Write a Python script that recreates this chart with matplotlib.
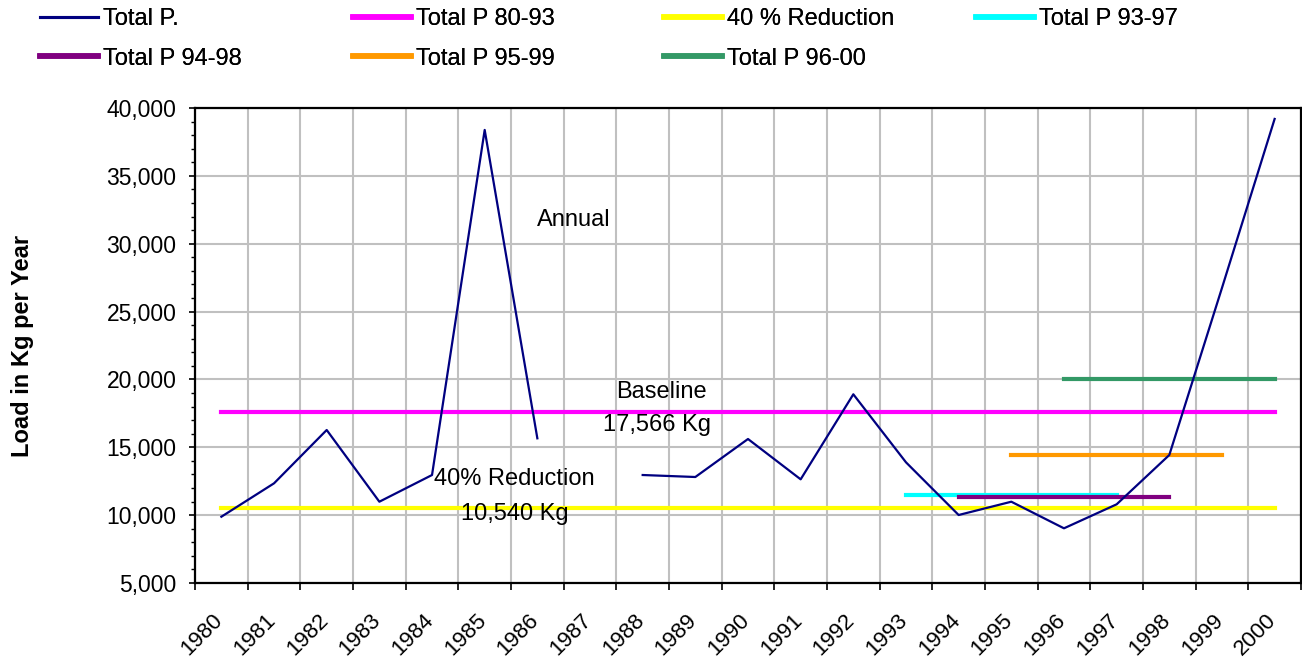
import numpy as np
import matplotlib
matplotlib.use('Agg')
import matplotlib.pyplot as plt
import matplotlib.transforms as mtransforms
from matplotlib.ticker import FuncFormatter, MultipleLocator, FixedLocator, NullFormatter
from matplotlib.lines import Line2D

plt.rcParams['font.family'] = ['Liberation Sans', 'DejaVu Sans']

# data
years = list(range(1980, 2001))
total_p = [9885, 12346, 16274, 10991, 12958, 38381, 15661, np.nan,
           12958, 12811, 15611, 12640, 18905, 13893, 10011, 10991,
           9031, 10799, 14432, 26739, 39192]
baseline = 17566
reduction = 10540
# running 5-year means: (first year, last year, value)
p_93_97 = (1993, 1997, 11507)
p_94_98 = (1994, 1998, 11337)
p_95_99 = (1995, 1999, 14432)
p_96_00 = (1996, 2000, 20011)

fig = plt.figure(figsize=(13.02, 6.62), dpi=100)
ax = fig.add_axes([0.1498, 0.1193, 0.8494, 0.7176])

lw_h = 3.0
l_base, = ax.plot([years[0], years[-1]], [baseline, baseline], color='#FF00FF', lw=lw_h, zorder=3)
l_red, = ax.plot([years[0], years[-1]], [reduction, reduction], color='#FFFF00', lw=lw_h, zorder=3)
l_9397, = ax.plot(p_93_97[:2], [p_93_97[2]] * 2, color='#00FFFF', lw=lw_h, zorder=3)
l_9498, = ax.plot(p_94_98[:2], [p_94_98[2]] * 2, color='#800080', lw=lw_h, zorder=3)
l_9599, = ax.plot(p_95_99[:2], [p_95_99[2]] * 2, color='#FF9900', lw=lw_h, zorder=3)
l_9600, = ax.plot(p_96_00[:2], [p_96_00[2]] * 2, color='#339966', lw=lw_h, zorder=3)
l_tot, = ax.plot(years, total_p, color='#000080', lw=1.6, zorder=4)

# axes
ax.set_xlim(years[0] - 0.5, years[-1] + 0.5)
ax.set_ylim(5000, 40000)
ax.yaxis.set_major_locator(MultipleLocator(5000))
ax.yaxis.set_minor_locator(MultipleLocator(1000))
ax.yaxis.set_major_formatter(FuncFormatter(lambda v, p: f'{int(v):,}'))
ax.xaxis.set_major_locator(FixedLocator([y - 0.5 for y in years] + [years[-1] + 0.5]))
ax.xaxis.set_major_formatter(NullFormatter())
ax.tick_params(axis='x', which='major', length=5, width=1.2, direction='out')
ax.tick_params(axis='y', which='major', length=4.5, width=1.2, direction='out', pad=9, labelsize=16.5)
ax.tick_params(axis='y', which='minor', length=3, width=1.0, direction='out')

# rotated category labels, top-right end just left of each category centre
xlab_tr = ax.get_xaxis_transform() + mtransforms.ScaledTranslation(-9 / 100, -27 / 100, fig.dpi_scale_trans)
for yr in years:
    ax.text(yr, 0, str(yr), transform=xlab_tr, rotation=45, rotation_mode='anchor',
            ha='right', va='top', fontsize=16, clip_on=False)

ax.grid(True, which='major', color='#C0C0C0', lw=1.5, zorder=0)
ax.set_axisbelow(True)
for s in ax.spines.values():
    s.set_color('black')
    s.set_linewidth(1.6)

ax.set_ylabel('Load in Kg per Year', fontsize=17, fontweight='bold')
ax.yaxis.set_label_coords(-0.146, 0.5)

# annotations
ax.text(1986.7, 31750, 'Annual', fontsize=17, ha='center', va='center')
ax.text(1988.35, 19100, 'Baseline', fontsize=17, ha='center', va='center')
ax.text(1988.27, 16650, '17,566 Kg', fontsize=17, ha='center', va='center')
ax.text(1985.56, 12660, '40% Reduction', fontsize=17, ha='center', va='center')
ax.text(1985.58, 10090, '10,540 Kg', fontsize=17, ha='center', va='center')

# legend, one block per column
columns = [
    ([l_tot, l_9498], ['Total P.', 'Total P 94-98'], 40),
    ([l_base, l_9599], ['Total P 80-93', 'Total P 95-99'], 353),
    ([l_red, l_9600], ['40 % Reduction', 'Total P 96-00'], 664),
    ([l_9397], ['Total P 93-97'], 976),
]
for handles, labels, xpx in columns:
    hs = []
    for h in handles:
        hs.append(Line2D([], [], color=h.get_color(), lw=2.2 if h is l_tot else 4))
    leg = fig.legend(hs, labels, loc='upper left', bbox_to_anchor=(xpx / 1302, 1 - 8 / 662),
                     frameon=False, fontsize=17, handlelength=2.45, handletextpad=0.2,
                     labelspacing=0.75, borderaxespad=0, borderpad=0)
    fig.add_artist(leg)

fig.savefig('out.png', dpi=100)
